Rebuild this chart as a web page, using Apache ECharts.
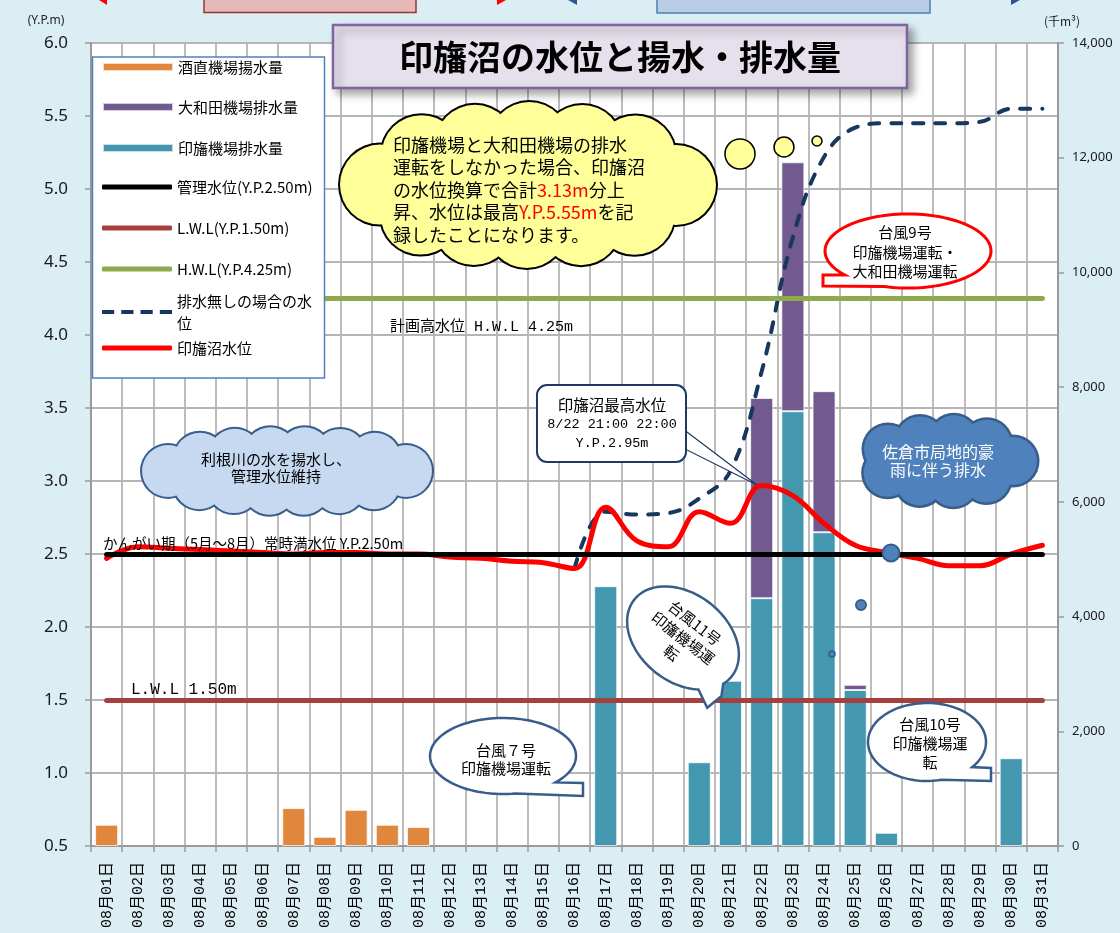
<!DOCTYPE html>
<html>
<head>
<meta charset="utf-8">
<title>印旛沼の水位と揚水・排水量</title>
<script src="https://cdn.jsdelivr.net/npm/echarts@6/dist/echarts.min.js"></script>
<style>
html, body { margin: 0; padding: 0; background: #dbeef4; }
#chart { width: 1120px; height: 933px; }
</style>
</head>
<body>
<div id="chart"></div>
<script>
// categories
const days = [
  '08月01日', '08月02日', '08月03日', '08月04日', '08月05日', '08月06日', '08月07日', '08月08日',
  '08月09日', '08月10日', '08月11日', '08月12日', '08月13日', '08月14日', '08月15日', '08月16日',
  '08月17日', '08月18日', '08月19日', '08月20日', '08月21日', '08月22日', '08月23日', '08月24日',
  '08月25日', '08月26日', '08月27日', '08月28日', '08月29日', '08月30日', '08月31日'
]

// pumping / drainage volume (千m3, right axis)
const sakanaoPump = [370, null, null, null, null, null, 660, 160, 630, 370, 330,
  null, null, null, null, null, null, null, null, null, null, null, null, null, null, null, null, null, null, null, null]
const inbaDrain = [null, null, null, null, null, null, null, null, null, null, null, null, null, null, null, null,
  4530, null, null, 1460, 2880, 4320, 7580, 5470, 2720, 230, null, null, null, 1530, null]
const owadaDrain = [null, null, null, null, null, null, null, null, null, null, null, null, null, null, null, null,
  null, null, null, null, null, 3490, 4340, 2460, 90, null, null, null, null, null, null]

// water levels (Y.P.m, left axis)
const inbaLevel = [2.47, 2.55, 2.54, 2.53, 2.52, 2.51, 2.50, 2.51, 2.51, 2.50, 2.50, 2.48, 2.47, 2.45, 2.44, 2.40,
  2.82, 2.59, 2.55, 2.79, 2.71, 2.97, 2.90, 2.71, 2.56, 2.51, 2.47, 2.42, 2.42, 2.50, 2.56]
const noDrainLevel = [null, null, null, null, null, null, null, null, null, null, null, null, null, null, null, 2.40,
  2.79, 2.77, 2.78, 2.88, 3.07, 3.75, 4.67, 5.22, 5.42, 5.45, 5.45, 5.45, 5.46, 5.55, 5.55]
const manageLevel = 2.5
const lwlLevel = 1.5
const hwlLevel = 4.25

// axis ranges
const levelMin = 0.5, levelMax = 6.0, levelStep = 0.5
const volMin = 0, volMax = 14000, volStep = 2000

const JP = '"Noto Sans CJK JP"'
const MONO = '"Liberation Mono", "Noto Sans CJK JP"'

const levelLine = (value) => ({
  silent: true,
  symbol: 'none',
  label: { show: false },
  animation: false,
  data: [[{ coord: [days[0], value] }, { coord: [days[days.length - 1], value] }]]
})

// legend rows inside the white box
const DASH_ICON = 'path://M0 0h12v4H0z M19 0h12v4H19z M38 0h12v4H38z M57 0h12v4H57z'
const legendRows = [
  { name: '酒直機場揚水量', y: 67, icon: 'rect', h: 8 },
  { name: '大和田機場排水量', y: 107, icon: 'rect', h: 8 },
  { name: '印旛機場排水量', y: 148, icon: 'rect', h: 8 },
  { name: '管理水位(Y.P.2.50m)', y: 187, icon: 'roundRect', h: 5 },
  { name: 'L.W.L(Y.P.1.50m)', y: 228, icon: 'roundRect', h: 5 },
  { name: 'H.W.L(Y.P.4.25m)', y: 269, icon: 'roundRect', h: 5 },
  { name: '排水無しの場合の水位', y: 312, icon: DASH_ICON, h: 5, wrap: true },
  { name: '印旛沼水位', y: 348, icon: 'roundRect', h: 5 }
]

const legends = legendRows.map(r => ({
  left: 102,
  top: r.wrap ? r.y - 22 : r.y - 10,
  z: 8,
  padding: 0,
  itemWidth: 70,
  itemHeight: r.h,
  selectedMode: false,
  icon: r.icon,
  formatter: r.wrap ? () => '排水無しの場合の水\n位' : undefined,
  textStyle: { fontFamily: JP, fontSize: 15, color: '#000', lineHeight: r.wrap ? 22 : 20 },
  data: [r.name]
}))

// ---- decorative shapes ----
const ellipsePts = (cx, cy, a, b, from, to) => {
  const pts = []
  for (let d = from; d <= to + 0.001; d += 3) {
    pts.push([cx + a * Math.cos(d * Math.PI / 180), cy + b * Math.sin(d * Math.PI / 180)])
  }
  return pts
}

function cloud(cx, cy, rx, ry, r, n, fill, stroke, lw, z) {
  const a = rx - r, b = ry - r
  const N = 720, pts = [], len = [0]
  for (let i = 0; i <= N; i++) {
    const t = i / N * 2 * Math.PI
    pts.push([cx + a * Math.cos(t), cy + b * Math.sin(t)])
    if (i) len.push(len[i - 1] + Math.hypot(pts[i][0] - pts[i - 1][0], pts[i][1] - pts[i - 1][1]))
  }
  const centers = []
  let j = 0
  for (let k = 0; k < n; k++) {
    const target = len[N] * k / n
    while (len[j] < target) j++
    centers.push(pts[j])
  }
  const els = []
  centers.forEach(c => els.push({ type: 'circle', z, silent: true, shape: { cx: c[0], cy: c[1], r: r + lw }, style: { fill: stroke } }))
  els.push({ type: 'polygon', z: z + 1, silent: true, shape: { points: ellipsePts(cx, cy, a + 2, b + 2, 0, 357) }, style: { fill } })
  centers.forEach(c => els.push({ type: 'circle', z: z + 1, silent: true, shape: { cx: c[0], cy: c[1], r }, style: { fill } }))
  return els
}

// ellipse outline with a small tail between angles a1 and a2 (degrees, clockwise)
function bubblePts(cx, cy, rx, ry, a1, a2, tail) {
  return ellipsePts(cx, cy, rx, ry, a2, a1 + 360).concat(tail)
}

const txt = (x, y, text, extra) => ({
  type: 'text', x, y, z: 30, silent: true,
  style: Object.assign({ text, fontFamily: JP, fontSize: 15, fill: '#000', align: 'center', verticalAlign: 'middle' }, extra)
})

const graphics = [
  // cut-off shapes along the top edge
  { type: 'rect', z: 30, shape: { x: 204, y: -12, width: 212, height: 24.5 }, style: { fill: '#E6B9B8', stroke: '#953735', lineWidth: 1.5 } },
  { type: 'rect', z: 30, shape: { x: 657, y: -12, width: 273, height: 25 }, style: { fill: '#B9CDE5', stroke: '#4A7EBB', lineWidth: 1.5 } },
  { type: 'polygon', z: 30, shape: { points: [[99, 0], [107, 0], [107, 5]] }, style: { fill: '#FF0000' } },
  { type: 'polygon', z: 30, shape: { points: [[497, 0], [506, 0], [497, 5]] }, style: { fill: '#FF0000' } },
  { type: 'polygon', z: 30, shape: { points: [[568, 0], [577, 0], [577, 5]] }, style: { fill: '#2F5597' } },
  { type: 'polygon', z: 30, shape: { points: [[1011, 0], [1020, 0], [1011, 5]] }, style: { fill: '#2F5597' } },

  // legend box (covers the plot, sits under the legend items)
  { type: 'rect', z: 7, silent: true, shape: { x: 92.5, y: 57, width: 232, height: 321 }, style: { fill: '#fff', stroke: '#4F81BD', lineWidth: 1.5 } },

  // title
  { type: 'rect', z: 30, silent: true, shape: { x: 333, y: 25, width: 574, height: 63 },
    style: { fill: '#E6E0EC', stroke: '#8064A2', lineWidth: 2.5, shadowBlur: 8, shadowOffsetX: 5, shadowOffsetY: 5, shadowColor: 'rgba(0,0,0,0.35)' } },
  txt(620, 57, '印旛沼の水位と揚水・排水量', { fontSize: 34, fontWeight: 'bold' }),

  // reference level captions
  txt(390, 327, '計画高水位 H.W.L 4.25m', { align: 'left', fontFamily: MONO, fontSize: 15 }),
  txt(103, 543, 'かんがい期（5月～8月）常時満水位 Y.P.2.50m', { align: 'left', fontSize: 14.5 }),
  txt(131, 690, 'L.W.L 1.50m', { align: 'left', fontFamily: MONO, fontSize: 16 }),

  // yellow thought cloud
  ...cloud(528, 185, 188, 83, 40, 12, '#FFFF99', '#000', 2, 20),
  { type: 'circle', z: 21, shape: { cx: 740, cy: 154, r: 15 }, style: { fill: '#FFFF99', stroke: '#000', lineWidth: 1.5 } },
  { type: 'circle', z: 21, shape: { cx: 784, cy: 147, r: 10 }, style: { fill: '#FFFF99', stroke: '#000', lineWidth: 1.5 } },
  { type: 'circle', z: 21, shape: { cx: 817, cy: 141, r: 5 }, style: { fill: '#FFFF99', stroke: '#000', lineWidth: 1.5 } },
  {
    type: 'text', x: 393, y: 190, z: 30, silent: true,
    style: {
      text: '印旛機場と大和田機場の排水\n運転をしなかった場合、印旛沼\nの水位換算で合計{r|3.13m}分上\n昇、水位は最高{r|Y.P.5.55m}を記\n録したことになります。',
      fontFamily: JP, fontSize: 18, lineHeight: 22.5, fill: '#000', align: 'left', verticalAlign: 'middle',
      rich: { r: { fill: '#FF0000', fontFamily: JP, fontSize: 18, lineHeight: 22.5 } }
    }
  },

  // light blue cloud
  ...cloud(287, 471, 145, 44, 26, 14, '#C6D9F1', '#385D8A', 2, 20),
  txt(276, 468, '利根川の水を揚水し、\n管理水位維持', { lineHeight: 17 }),

  // blue cloud + trail
  ...cloud(945, 461, 92, 46, 24, 9, '#4F81BD', '#385D8A', 2.5, 20),
  txt(938, 461, '佐倉市局地的豪\n雨に伴う排水', { fill: '#fff', fontSize: 16, lineHeight: 18 }),
  { type: 'circle', z: 21, shape: { cx: 891, cy: 553, r: 8.5 }, style: { fill: '#4F81BD', stroke: '#385D8A', lineWidth: 2 } },
  { type: 'circle', z: 21, shape: { cx: 861, cy: 605, r: 5 }, style: { fill: '#4F81BD', stroke: '#385D8A', lineWidth: 2 } },
  { type: 'circle', z: 21, shape: { cx: 832, cy: 654, r: 3 }, style: { fill: '#4F81BD', stroke: '#385D8A', lineWidth: 1.5 } },

  // highest level callout
  { type: 'polygon', z: 20, shape: { points: [[683, 429], [757, 485], [683, 448]] }, style: { fill: '#fff', stroke: '#1F3864', lineWidth: 1.2 } },
  { type: 'rect', z: 21, shape: { x: 537, y: 385, width: 149, height: 77, r: 10 }, style: { fill: '#fff', stroke: '#1F3864', lineWidth: 2 } },
  {
    type: 'text', x: 612, y: 424, z: 30, silent: true,
    style: {
      text: '{a|印旛沼最高水位}\n{b|8/22 21:00 22:00}\n{b|Y.P.2.95m}',
      align: 'center', verticalAlign: 'middle', fill: '#000',
      rich: {
        a: { fontFamily: JP, fontSize: 15.5, lineHeight: 19, fill: '#000' },
        b: { fontFamily: MONO, fontSize: 13.5, lineHeight: 19, fill: '#000' }
      }
    }
  },

  // typhoon speech bubbles
  { type: 'polygon', z: 21, shape: { points: bubblePts(908, 251, 83, 37, 108, 139.5, [[823, 286], [823, 275]]) }, style: { fill: '#fff', stroke: '#FF0000', lineWidth: 3 } },
  txt(905, 252, '台風9号\n印旛機場運転・\n大和田機場運転', { lineHeight: 19.5 }),

  { type: 'polygon', z: 21, shape: { points: bubblePts(503, 756, 73, 38, 45, 80, [[583, 783], [583, 796]]) }, style: { fill: '#fff', stroke: '#385D8A', lineWidth: 2.5 } },
  txt(506, 759, '台風７号\n印旛機場運転', { lineHeight: 18 }),

  { type: 'polygon', z: 21, shape: { points: bubblePts(927, 742, 59, 39, 42, 76, [[991, 768], [991, 781]]) }, style: { fill: '#fff', stroke: '#385D8A', lineWidth: 2.5 } },
  txt(930, 743, '台風10号\n印旛機場運\n転', { lineHeight: 19 }),

  {
    type: 'group', x: 683, y: 638, rotation: -38 * Math.PI / 180,
    children: [
      { type: 'polygon', z: 21, shape: { points: bubblePts(0, 0, 62, 44, 15, 45, [[66, 22], [62, 40]]) }, style: { fill: '#fff', stroke: '#385D8A', lineWidth: 2.5 } },
      { type: 'text', x: 0, y: 0, z: 30, style: { text: '台風11号\n印旛機場運\n転', fontFamily: JP, fontSize: 15, lineHeight: 19, fill: '#000', align: 'center', verticalAlign: 'middle' } }
    ]
  }
]

const chart = echarts.init(document.getElementById('chart'))

chart.setOption({
  animation: false,
  backgroundColor: '#dbeef4',
  grid: { left: 91, right: 62, top: 43, bottom: 87, show: true, backgroundColor: '#fff', borderWidth: 0, containLabel: false, outerBoundsMode: 'none' },
  legend: legends,
  xAxis: {
    type: 'category',
    data: days,
    boundaryGap: true,
    axisLine: { lineStyle: { color: '#9a9a9a', width: 2 } },
    axisTick: { show: true, length: 6, interval: 0, lineStyle: { color: '#9a9a9a', width: 1.5 } },
    splitLine: { show: true, interval: 0, lineStyle: { color: '#b5b5b5', width: 1.8 } },
    axisLabel: { interval: 0, rotate: 90, margin: 16, fontFamily: MONO, fontSize: 15, color: '#000' }
  },
  yAxis: [
    {
      type: 'value',
      min: levelMin, max: levelMax, interval: levelStep,
      name: '(Y.P.m)',
      nameLocation: 'end',
      nameGap: 16,
      nameTextStyle: { fontFamily: '"Noto Sans"', fontSize: 12, color: '#222', align: 'center', padding: [0, 0, 0, -90] },
      axisLine: { show: true, lineStyle: { color: '#9a9a9a', width: 2 } },
      axisTick: { show: true, length: 6, lineStyle: { color: '#9a9a9a', width: 1.5 } },
      splitLine: { show: true, lineStyle: { color: '#b5b5b5', width: 1.8 } },
      axisLabel: { margin: 23, fontFamily: '"Noto Sans"', fontSize: 17, color: '#1a1a1a', formatter: v => v.toFixed(1) }
    },
    {
      type: 'value',
      position: 'right',
      min: volMin, max: volMax, interval: volStep,
      name: '(千m³)',
      nameLocation: 'end',
      nameGap: 16,
      nameTextStyle: { fontFamily: JP, fontSize: 12, color: '#222', align: 'center', padding: [0, 0, 0, 8] },
      axisLine: { show: true, lineStyle: { color: '#9a9a9a', width: 2 } },
      axisTick: { show: true, length: 6, lineStyle: { color: '#9a9a9a', width: 1.5 } },
      splitLine: { show: false },
      axisLabel: { margin: 14, fontFamily: '"Noto Sans"', fontSize: 13, color: '#1a1a1a', formatter: v => v.toLocaleString('en-US') }
    }
  ],
  series: [
    {
      name: '酒直機場揚水量', type: 'bar', yAxisIndex: 1, stack: 'vol', barWidth: 23, data: sakanaoPump,
      itemStyle: { color: '#E0873D', borderColor: 'rgba(255,255,255,0.7)', borderWidth: 1 }
    },
    {
      name: '印旛機場排水量', type: 'bar', yAxisIndex: 1, stack: 'vol', barWidth: 23, data: inbaDrain,
      itemStyle: { color: '#4398B0', borderColor: 'rgba(255,255,255,0.7)', borderWidth: 1 }
    },
    {
      name: '大和田機場排水量', type: 'bar', yAxisIndex: 1, stack: 'vol', barWidth: 23, data: owadaDrain,
      itemStyle: { color: '#725A8F', borderColor: 'rgba(255,255,255,0.7)', borderWidth: 1 }
    },
    {
      name: '管理水位(Y.P.2.50m)', type: 'line', data: [], symbol: 'none',
      lineStyle: { color: '#000', width: 5 }, itemStyle: { color: '#000' },
      markLine: Object.assign(levelLine(manageLevel), { lineStyle: { color: '#000', width: 5, type: 'solid', cap: 'round' } })
    },
    {
      name: 'L.W.L(Y.P.1.50m)', type: 'line', data: [], symbol: 'none',
      lineStyle: { color: '#A5403E', width: 5 }, itemStyle: { color: '#A5403E' },
      markLine: Object.assign(levelLine(lwlLevel), { lineStyle: { color: '#A5403E', width: 5, type: 'solid', cap: 'round' } })
    },
    {
      name: 'H.W.L(Y.P.4.25m)', type: 'line', data: [], symbol: 'none',
      lineStyle: { color: '#8EAA4C', width: 5 }, itemStyle: { color: '#8EAA4C' },
      markLine: Object.assign(levelLine(hwlLevel), { lineStyle: { color: '#8EAA4C', width: 5, type: 'solid', cap: 'round' } })
    },
    {
      name: '排水無しの場合の水位', type: 'line', data: noDrainLevel, symbol: 'none', smooth: 0.4,
      lineStyle: { color: '#17375E', width: 4, type: [10, 12], cap: 'round' }, itemStyle: { color: '#17375E' }
    },
    {
      name: '印旛沼水位', type: 'line', data: inbaLevel, symbol: 'none', smooth: 0.4,
      lineStyle: { color: '#FF0000', width: 5, cap: 'round' }, itemStyle: { color: '#FF0000' }
    }
  ],
  graphic: { elements: graphics }
})
</script>
</body>
</html>
